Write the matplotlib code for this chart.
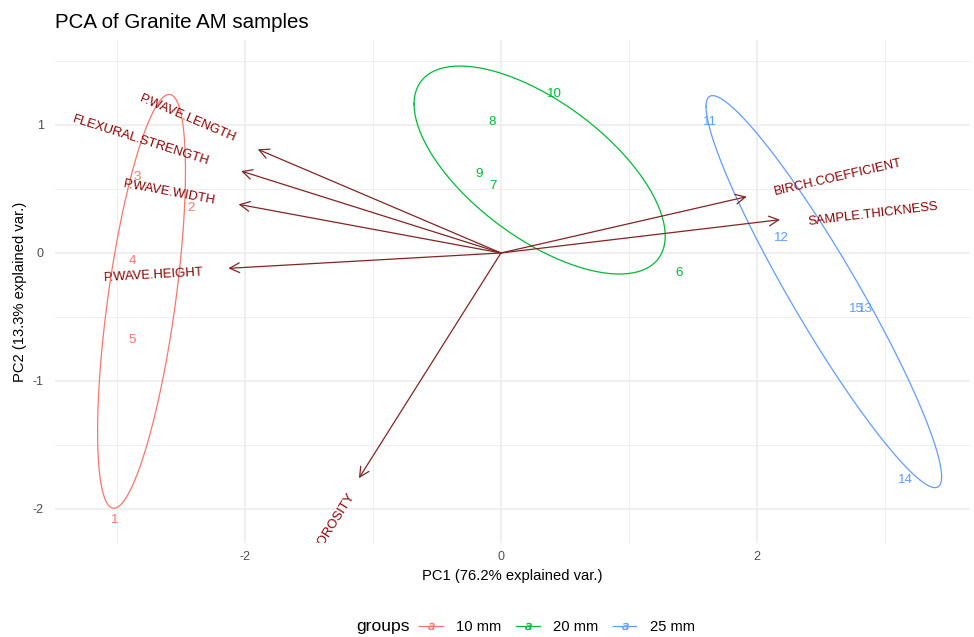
import numpy as np
import matplotlib.pyplot as plt
from matplotlib.lines import Line2D

plt.rcParams['font.family'] = ['Liberation Sans', 'DejaVu Sans']
plt.rcParams['axes.unicode_minus'] = False

# PCA scores per sample
sample_ids = ['1', '2', '3', '4', '5',
              '6', '7', '8', '9', '10',
              '11', '12', '13', '14', '15']
pc1 = [-3.02, -2.42, -2.84, -2.88, -2.88,
       1.39, -0.06, -0.07, -0.17, 0.42,
       1.63, 2.19, 2.85, 3.16, 2.78]
pc2 = [-2.09, 0.35, 0.59, -0.06, -0.68,
       -0.16, 0.52, 1.02, 0.62, 1.24,
       1.02, 0.12, -0.44, -1.77, -0.44]
groups = ['10 mm'] * 5 + ['20 mm'] * 5 + ['25 mm'] * 5
group_names = ['10 mm', '20 mm', '25 mm']
group_colors = ['#F8766D', '#00BA38', '#619CFF']

# variable loadings (arrow tips) and label placement
var_names = ['P.WAVE.LENGTH', 'FLEXURAL.STRENGTH', 'P.WAVE.WIDTH', 'P.WAVE.HEIGHT',
             'POROSITY', 'BIRCH.COEFFICIENT', 'SAMPLE.THICKNESS']
var_x = [-1.90, -2.03, -2.05, -2.13, -1.11, 1.92, 2.18]
var_y = [0.81, 0.64, 0.38, -0.12, -1.76, 0.44, 0.26]
lab_x = [-2.45, -2.81, -2.59, -2.71, -1.30, 2.63, 2.91]
lab_y = [1.05, 0.875, 0.47, -0.17, -2.10, 0.59, 0.30]

fig = plt.figure(figsize=(9.74, 6.37), dpi=100)
ax = fig.add_axes([55 / 974, 1 - 543 / 637, 915 / 974, 503 / 637])
ax.set_xlim(-3.484, 3.664)
ax.set_ylim(-2.266, 1.664)

for s in ax.spines.values():
    s.set_visible(False)
ax.set_xticks([-2, 0, 2])
ax.set_yticks([-2, -1, 0, 1])
ax.set_xticks([-3, -1, 1, 3], minor=True)
ax.set_yticks([-1.5, -0.5, 0.5, 1.5], minor=True)
ax.grid(True, which='major', color='#EBEBEB', lw=1.1)
ax.grid(True, which='minor', color='#EBEBEB', lw=0.6)
ax.tick_params(which='both', length=0, labelsize=9, labelcolor='#4D4D4D')
ax.tick_params(axis='x', pad=6)
ax.tick_params(axis='y', pad=8)
ax.set_axisbelow(True)

pc1 = np.array(pc1)
pc2 = np.array(pc2)
groups = np.array(groups)

# 68% normal data ellipses per group
ed = np.sqrt(-2 * np.log(1 - 0.68))
theta = np.linspace(-np.pi, np.pi, 100)
circle = np.column_stack([np.cos(theta), np.sin(theta)])
for g, c in zip(group_names, group_colors):
    m = groups == g
    pts = np.column_stack([pc1[m], pc2[m]])
    sigma = np.cov(pts, rowvar=False)
    L = np.linalg.cholesky(sigma)
    ell = circle @ L.T * ed + pts.mean(axis=0)
    ax.plot(ell[:, 0], ell[:, 1], color=c, lw=0.9)

# variable arrows
for vx, vy in zip(var_x, var_y):
    ax.annotate('', xy=(vx, vy), xytext=(0, 0),
                arrowprops=dict(arrowstyle='->,head_length=0.7,head_width=0.35',
                                color='#832424', lw=0.9, shrinkA=0, shrinkB=0))

for name, vx, vy, tx, ty in zip(var_names, var_x, var_y, lab_x, lab_y):
    ang = np.degrees(np.arctan(vy / vx))
    ax.text(tx, ty, name, rotation=ang, rotation_mode='anchor',
            ha='center', va='center', color='#8B0000', fontsize=9.4, clip_on=True)

# sample labels
for sid, x, y, g in zip(sample_ids, pc1, pc2, groups):
    c = group_colors[group_names.index(g)]
    ax.text(x, y, sid, color=c, ha='center', va='center', fontsize=9.6)

ax.set_xlabel('PC1 (76.2% explained var.)', fontsize=10.6, labelpad=4)
ax.set_ylabel('PC2 (13.3% explained var.)', fontsize=10.6, labelpad=4)
fig.text(55 / 974, 1 - 22 / 637, 'PCA of Granite AM samples', fontsize=14.8,
         ha='left', va='center')

# legend
fig.text(383 / 974, 1 - 627 / 637, 'groups', fontsize=12.6, ha='center', va='center')
handles = [Line2D([0], [0], color=c, lw=0.9, marker='$a$', markersize=5,
                  markeredgewidth=0.3) for c in group_colors]
fig.legend(handles, group_names, loc='center', ncol=3, frameon=False,
           bbox_to_anchor=(557 / 974, 1 - 627 / 637), fontsize=10.6,
           handlelength=1.6, handletextpad=0.9, columnspacing=1.0)

fig.savefig('out.png', dpi=100, facecolor='white')
